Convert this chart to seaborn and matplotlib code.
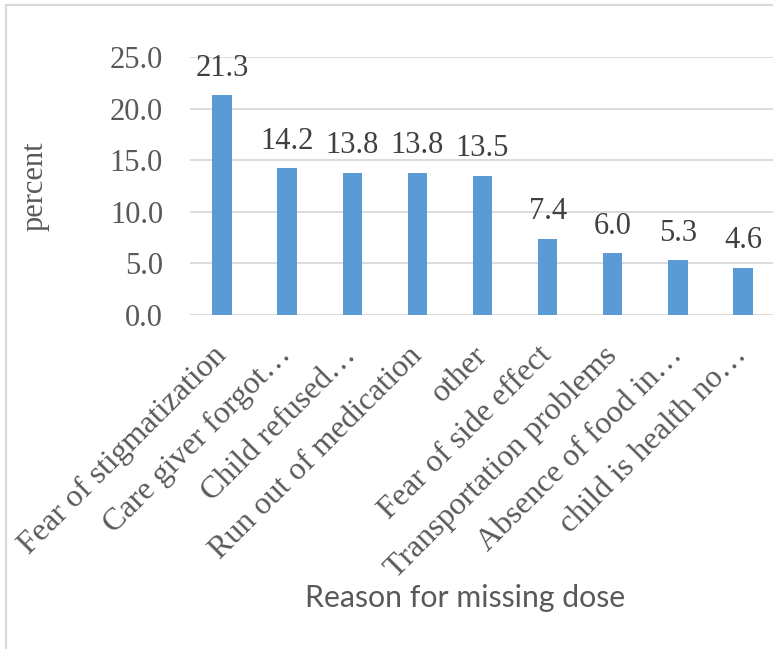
import matplotlib
matplotlib.use("Agg")
import matplotlib.pyplot as plt
from matplotlib.lines import Line2D
import seaborn as sns

# values
reasons = ["Fear of stigmatization", "Care giver forgot\u2026", "Child refused\u2026",
           "Run out of medication", "other", "Fear of side effect",
           "Transportation problems", "Absence of food in\u2026", "child is health no\u2026"]
percent = [21.3, 14.2, 13.8, 13.8, 13.5, 7.4, 6.0, 5.3, 4.6]
yticks = [0, 5, 10, 15, 20, 25]

sns.set_theme(style="white")
plt.rcParams['font.family'] = ['Liberation Serif', 'DejaVu Serif']

W, H = 773, 649
fig = plt.figure(figsize=(W / 100, H / 100), dpi=100)
ax = fig.add_axes([189.5 / W, 1 - 315 / H, 586 / W, 258 / H])

sns.barplot(x=reasons, y=percent, color="#5B9BD5", saturation=1, width=0.3,
            linewidth=0, ax=ax, zorder=3)

ax.set_ylim(0, 25)
ax.set_yticks(yticks)
ax.set_yticklabels(["%.1f" % v for v in yticks], fontsize=22, color="#595959")
ax.yaxis.grid(True, color="#d9d9d9", linewidth=1.3, zorder=0)
ax.set_axisbelow(True)
for s in ax.spines.values():
    s.set_visible(False)
ax.tick_params(axis="both", length=0)
ax.tick_params(axis="y", pad=19)
ax.tick_params(axis="x", pad=26)

ax.set_xticks(range(len(reasons)))
ax.set_xticklabels(reasons, rotation=45, ha="right", va="center",
                   rotation_mode="anchor", fontsize=23, color="#595959")

ax.bar_label(ax.containers[0], fmt="%.1f", padding=9, fontsize=22, color="#404040")

ax.set_ylabel("percent", fontsize=22, color="#595959", va="center")
ax.yaxis.set_label_coords(-0.264, 0.5)
ax.set_xlabel("Reason for missing dose", fontsize=21.8, color="#595959",
              family=["Lato", "DejaVu Sans"], va="center")
ax.xaxis.set_label_coords(0.470, -1.097)

# chart area border (left and top edges are visible in the crop)
fig.add_artist(Line2D([6 / W, 6 / W], [0, 1 - 5 / H], color="#d9d9d9", lw=1.5))
fig.add_artist(Line2D([6 / W, 1], [1 - 5 / H, 1 - 5 / H], color="#d9d9d9", lw=1.5))

fig.savefig("out.png", dpi=100, facecolor="white")
